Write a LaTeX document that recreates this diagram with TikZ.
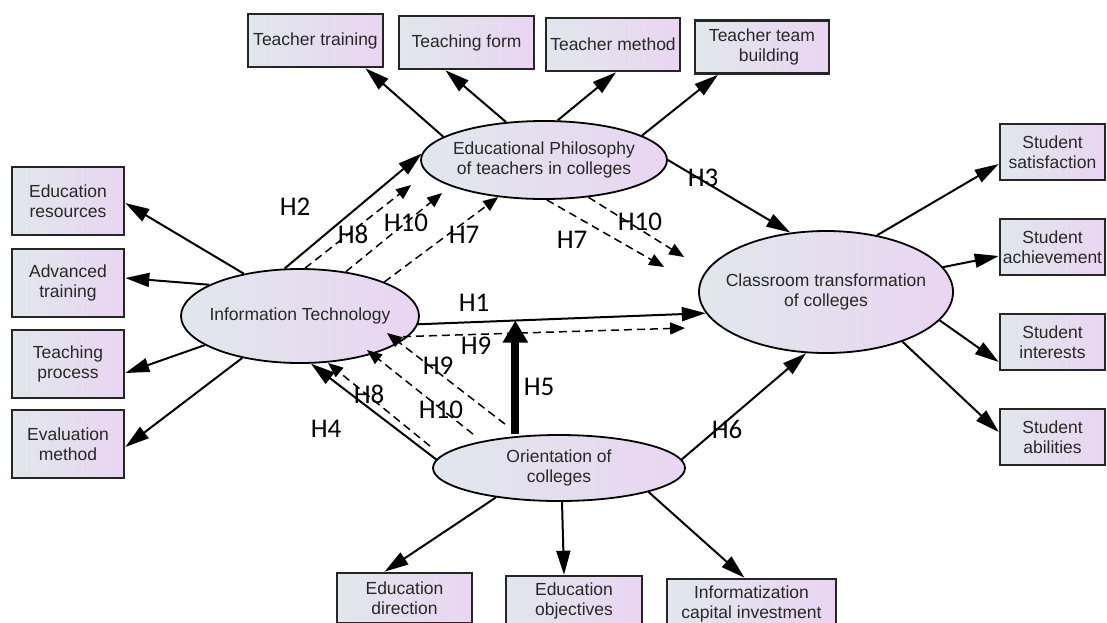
\documentclass[tikz,border=0pt]{standalone}
\usepackage{fontspec}
\setmainfont{Liberation Sans}
\newfontfamily\hfont{Carlito}
\usetikzlibrary{arrows.meta,calc,shapes.geometric}
\definecolor{shadeL}{RGB}{225,231,236}
\definecolor{shadeR}{RGB}{234,213,242}
\definecolor{inkgray}{RGB}{40,40,40}

\begin{document}
\begin{tikzpicture}[x=1pt,y=-1pt,
  ind/.style={draw=black!85,line width=2.6pt,left color=shadeL,right color=shadeR,align=center,
              text=inkgray,font=\fontsize{17.5}{20}\selectfont,inner sep=0pt},
  indtop/.style={ind,minimum width=135pt,minimum height=53pt},
  indside/.style={ind,minimum width=112pt,minimum height=68pt},
  indright/.style={ind,minimum width=105pt,minimum height=56pt},
  indbot/.style={ind,minimum height=50pt},
  lat/.style={ellipse,draw=black,line width=1.8pt,left color=shadeL,right color=shadeR,align=center,
              text=inkgray,font=\fontsize{17.5}{20}\selectfont,inner xsep=-20pt,inner ysep=0pt},
  arr/.style={-{Triangle[length=24pt,width=14pt]},line width=2pt},
  darr/.style={-{Triangle[length=15pt,width=12pt]},line width=1.5pt,dash pattern=on 8pt off 5pt},
  hlab/.style={font=\hfont\fontsize{27}{30}\selectfont,inner sep=0pt}]
  \clip (0,0) rectangle (1107,622);
  % latent variables
  \node[lat,minimum width=246pt,minimum height=78pt] (EP) at (544,160) {Educational Philosophy\\of teachers in colleges};
  \node[lat,minimum width=238pt,minimum height=94pt] (IT) at (300,316) {Information Technology};
  \node[lat,minimum width=254pt,minimum height=122pt] (CT) at (826,292) {Classroom transformation\\of colleges};
  \node[lat,minimum width=252pt,minimum height=66pt] (OC) at (559,468) {Orientation of\\colleges};
  % indicators
  \node[indtop] (TT) at (315.5,40.5) {Teacher training};
  \node[indtop] (TF) at (466.5,42.5) {Teaching form};
  \node[indtop,minimum width=134pt] (TM) at (613,44.5) {Teacher method};
  \node[indtop,minimum width=134pt] (TB) at (762,47) {Teacher team\\\hspace*{14pt}building};
  \node[indside] (ER) at (68,201) {Education\\resources};
  \node[indside] (AT) at (68,283) {Advanced\\training};
  \node[indside] (TP) at (68,364) {Teaching\\process};
  \node[indside] (EM) at (68,444) {Evaluation\\method};
  \node[indright] (SS) at (1052.5,152) {Student\\satisfaction};
  \node[indright] (SA) at (1052.5,247) {Student\\achievement};
  \node[indright] (SI) at (1052.5,342) {Student\\interests};
  \node[indright] (SB) at (1052.5,437) {Student\\abilities};
  \node[indbot,minimum width=135pt] (ED) at (404.5,598) {Education\\direction};
  \node[indbot,minimum width=136pt] (EO) at (574,601) {Education\\objectives};
  \node[indbot,minimum width=169pt] (IC) at (751.5,604) {Informatization\\capital investment};
  % measurement arrows
  \draw[arr] (EP.167) -- ([xshift=50pt]TT.south);
  \draw[arr] (EP.135) -- ([xshift=-21pt]TF.south);
  \draw[arr] (EP.71) -- ([xshift=3pt]TM.south);
  \draw[arr] (EP.14) -- ([xshift=-44pt]TB.south);
  \draw[arr] (IT.143) -- ([yshift=-2pt]ER.east);
  \draw[arr] (IT.161) -- ([yshift=5pt]AT.east);
  \draw[arr] (IT.197) -- ([yshift=-9pt]TP.east);
  \draw[arr] (IT.216) -- ([yshift=-3pt]EM.east);
  \draw[arr] (CT.48) -- ([yshift=-12pt]SS.west);
  \draw[arr] (CT.12) -- ([yshift=-9pt]SA.west);
  \draw[arr] (CT.-14) -- ([yshift=-20pt]SI.west);
  \draw[arr] (CT.-33) -- ([yshift=5pt]SB.west);
  \draw[arr] (OC.205) -- ([xshift=-20pt]ED.north);
  \draw[arr] ([xshift=3pt]OC.south) -- ([xshift=-10pt]EO.north);
  \draw[arr] (OC.-15) -- ([xshift=-7pt]IC.north);
  % structural paths
  \draw[arr] (IT.108) -- (EP.177);
  \draw[arr] (IT.-4) -- (CT.190);
  \draw[arr] (EP.0) -- (CT.121);
  \draw[arr] (OC.176) -- (IT.-77);
  \draw[arr] (OC.4) -- (CT.-108);
  \coordinate (m5) at ($(IT.-4)!0.338!(CT.190)$);
  \draw[-{Triangle[length=22pt,width=24pt]},line width=8pt] (m5 |- OC.north) -- (m5);
  % mediation paths
  \draw[darr] (IT.84) -- ([xshift=-9pt,yshift=-25pt]EP.west);
  \draw[darr] (IT.44) -- ([xshift=22pt,yshift=-33pt]EP.west);
  \draw[darr] (IT.22) -- (EP.-141);
  \draw[darr] (EP.-86) -- ([xshift=-34pt,yshift=25pt]CT.west);
  \draw[darr] (EP.-40) -- ([xshift=-14pt,yshift=35pt]CT.west);
  \draw[darr] ([xshift=90pt,yshift=-21pt]IT.center) -- ([xshift=-13pt,yshift=-36pt]CT.west);
  \draw[darr] ([xshift=-54pt,yshift=10pt]OC.north) -- ([xshift=87pt,yshift=-17pt]IT.center);
  \draw[darr] ([xshift=-86pt]OC.north) -- ([xshift=67pt,yshift=-34pt]IT.center);
  \draw[darr] ([xshift=-129pt,yshift=-12pt]OC.north) -- ([xshift=28pt,yshift=-47pt]IT.center);
  % hypothesis labels
  \node[hlab] (h2) at (295,207) {H2};
  \node[hlab] (h8a) at (353,234) {H8};
  \node[hlab] (h10a) at (406,223) {H10};
  \node[hlab] (h7a) at (464,235) {H7};
  \node[hlab] (h1) at (474,303) {H1};
  \node[hlab] (h3) at (703,178) {H3};
  \node[hlab] (h10b) at (640,222) {H10};
  \node[hlab] (h7b) at (572,240) {H7};
  \node[hlab] (h9a) at (476,346) {H9};
  \node[hlab] (h9b) at (438,366) {H9};
  \node[hlab] (h5) at (539,387) {H5};
  \node[hlab] (h8b) at (369,394) {H8};
  \node[hlab] (h10c) at (441,410) {H10};
  \node[hlab] (h4) at (326,429) {H4};
  \node[hlab] (h6) at (727,429) {H6};
\end{tikzpicture}
\end{document}
